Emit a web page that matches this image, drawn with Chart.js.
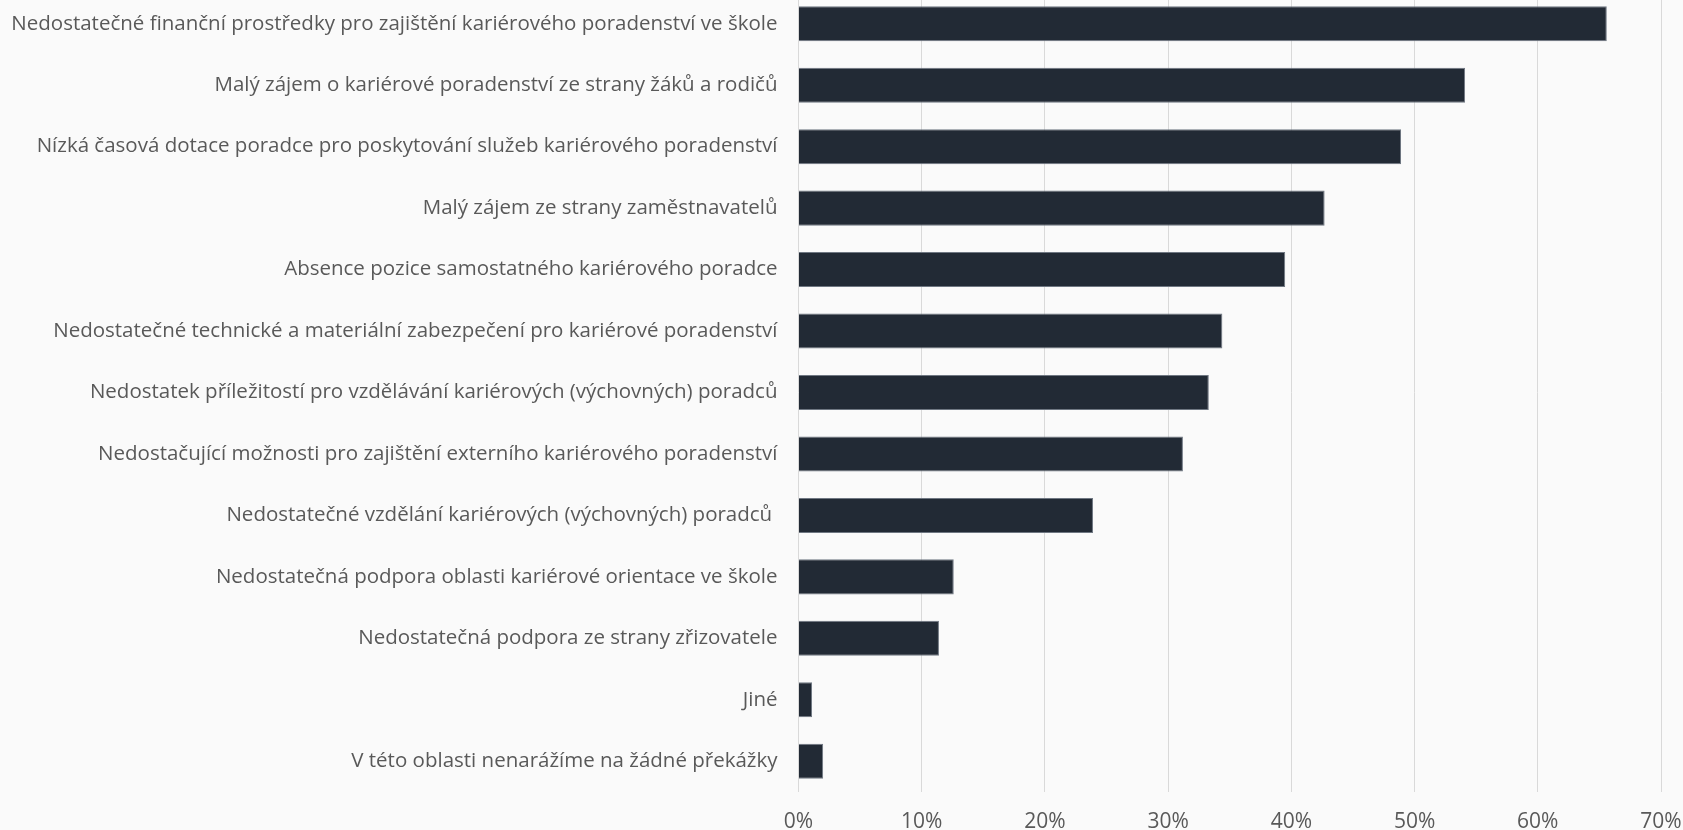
<!DOCTYPE html>
<html>
<head>
<meta charset="utf-8">
<script src="https://cdn.jsdelivr.net/npm/chart.js@4.4.1/dist/chart.umd.min.js"></script>
<style>
  html, body { margin: 0; padding: 0; background: #fafafa; }
  #wrap { position: relative; width: 1683px; height: 830px; overflow: hidden; background: #fafafa; }
  #c { position: absolute; left: 0; top: -7px; }
</style>
</head>
<body>
<div id="wrap"><canvas id="c" width="1683" height="837"></canvas></div>
<script>
const categories = [
  "Nedostatečné finanční prostředky pro zajištění kariérového poradenství ve škole",
  "Malý zájem o kariérové poradenství ze strany žáků a rodičů",
  "Nízká časová dotace poradce pro poskytování služeb kariérového poradenství",
  "Malý zájem ze strany zaměstnavatelů",
  "Absence pozice samostatného kariérového poradce",
  "Nedostatečné technické a materiální zabezpečení pro kariérové poradenství",
  "Nedostatek příležitostí pro vzdělávání kariérových (výchovných) poradců",
  "Nedostačující možnosti pro zajištění externího kariérového poradenství",
  "Nedostatečné vzdělání kariérových (výchovných) poradců ",
  "Nedostatečná podpora oblasti kariérové orientace ve škole",
  "Nedostatečná podpora ze strany zřizovatele",
  "Jiné",
  "V této oblasti nenarážíme na žádné překážky"
];
const values = [65.6, 54.1, 48.9, 42.7, 39.5, 34.4, 33.3, 31.2, 23.9, 12.6, 11.4, 1.1, 2.0];
const tickValues = [0, 10, 20, 30, 40, 50, 60, 70];
const tickSuffix = "%";

const FONT = "'Open Sans', 'Noto Sans', sans-serif";
const mctx = document.createElement('canvas').getContext('2d');
mctx.font = "100px " + FONT;
let maxW = 0;
categories.forEach(c => { maxW = Math.max(maxW, mctx.measureText(c).width); });
const labelSize = Math.round(768 / maxW * 100 * 10) / 10;

new Chart(document.getElementById('c'), {
  type: 'bar',
  data: {
    labels: categories,
    datasets: [{
      data: values,
      backgroundColor: '#222a35',
      borderColor: '#6f7782',
      borderWidth: 1,
      barPercentage: 0.57,
      categoryPercentage: 1.0
    }]
  },
  options: {
    indexAxis: 'y',
    responsive: false,
    animation: false,
    layout: { padding: { left: 0, right: 22, top: 0, bottom: 0 } },
    plugins: { legend: { display: false }, tooltip: { enabled: false } },
    scales: {
      x: {
        min: 0, max: 70,
        afterBuildTicks: (s) => { s.ticks = tickValues.map(v => ({ value: v })); },
        afterFit: (s) => { s.height = 38; s.paddingLeft = 0; s.paddingRight = 0; },
        grid: { color: '#d9d9d9', lineWidth: 1, drawTicks: false },
        border: { display: false },
        ticks: {
          color: '#595959',
          font: { family: FONT, size: 21 },
          padding: 17,
          maxRotation: 0,
          callback: (v) => v + tickSuffix
        }
      },
      y: {
        afterFit: (s) => { s.width = 798.5; s.paddingTop = 0; s.paddingBottom = 0; },
        grid: { display: false, drawTicks: false },
        border: { display: false },
        ticks: {
          color: '#595959',
          font: { family: FONT, size: labelSize },
          padding: 21,
          autoSkip: false
        }
      }
    }
  }
});
</script>
</body>
</html>
